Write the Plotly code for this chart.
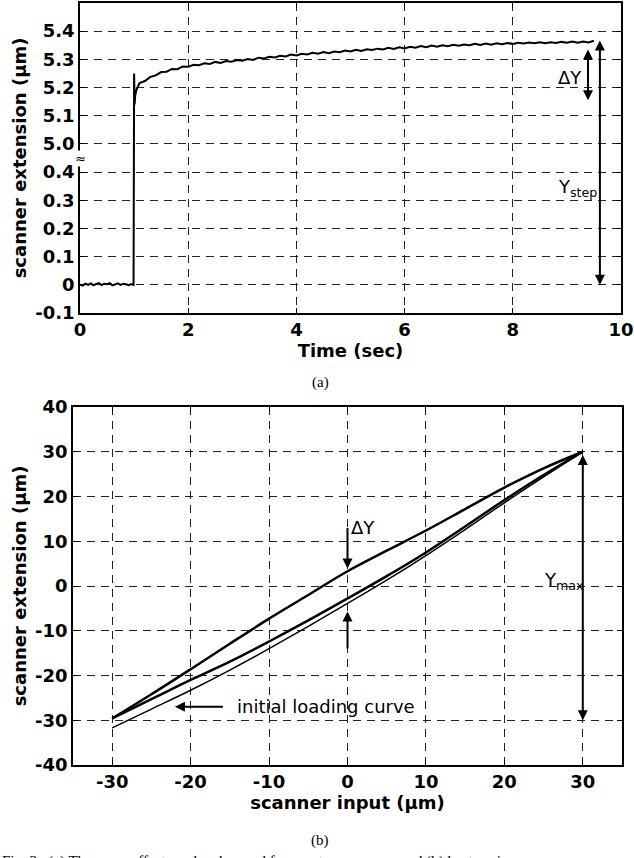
import plotly.graph_objects as go

# ---------------- data: (a) creep step response ----------------
step_time = [0.0, 0.05, 0.1, 0.15, 0.2, 0.25, 0.3, 0.35, 0.4, 0.45, 0.5, 0.55, 0.6, 0.65,
             0.7, 0.75, 0.8, 0.85, 0.9, 0.95, 0.99, 1.0, 1.01, 1.02, 1.04, 1.07]
step_value = [0.0, -0.003, 0.004, 0.0, 0.005, -0.002, 0.003, 0.006, -0.001, 0.004, 0.002,
              0.006, -0.002, 0.003, 0.005, 0.0, 0.004, 0.002, -0.001, 0.003, 0.0,
              5.25, 5.14, 5.17, 5.19, 5.205]
creep_time = [round(1.1 + 0.1 * i, 1) for i in range(85)]
creep_value = [5.216, 5.223, 5.238, 5.243, 5.255, 5.256, 5.266, 5.265, 5.275, 5.274,
               5.281, 5.279, 5.286, 5.284, 5.291, 5.287, 5.294, 5.292, 5.298, 5.295,
               5.301, 5.298, 5.306, 5.303, 5.309, 5.307, 5.313, 5.310, 5.317, 5.314,
               5.320, 5.317, 5.323, 5.320, 5.326, 5.322, 5.328, 5.325, 5.331, 5.328,
               5.334, 5.330, 5.336, 5.333, 5.338, 5.335, 5.341, 5.337, 5.343, 5.339,
               5.345, 5.341, 5.347, 5.343, 5.349, 5.345, 5.350, 5.347, 5.352, 5.348,
               5.353, 5.350, 5.355, 5.351, 5.356, 5.352, 5.357, 5.354, 5.358, 5.355,
               5.359, 5.356, 5.360, 5.357, 5.361, 5.357, 5.361, 5.358, 5.362, 5.359,
               5.363, 5.359, 5.363, 5.360, 5.366]
top_ytick_values = [-0.1, 0, 0.1, 0.2, 0.3, 0.4, 5.0, 5.1, 5.2, 5.3, 5.4]
top_ytick_labels = ["-0.1", "0", "0.1", "0.2", "0.3", "0.4", "5.0", "5.1", "5.2", "5.3", "5.4"]
top_xticks = [0, 2, 4, 6, 8, 10]
top_xtick_labels = ["0", "2", "4", "6", "8", "10"]

# ---------------- data: (b) hysteresis loop ----------------
desc_input = [30, 25, 20, 15, 10, 5, 0, -5, -10, -15, -20, -25, -30]
desc_ext = [30, 26.3, 22.0, 17.2, 12.4, 7.9, 3.3, -2.0, -7.3, -12.9, -18.6, -24.2, -29.6]
asc_input = [-30, -25, -20, -15, -10, -5, 0, 5, 10, 15, 20, 25, 30]
asc_ext = [-29.6, -25.3, -21.0, -16.9, -12.4, -7.7, -2.8, 2.2, 7.5, 13.3, 19.2, 24.8, 30]
init_input = [-30, -25, -20, -15, -10, -5, 0, 5, 10, 15, 20, 25, 30]
init_ext = [-31.7, -27.5, -23.3, -18.8, -14.0, -9.0, -3.9, 1.3, 6.8, 12.6, 18.6, 24.4, 30]
bot_xticks = [-30, -20, -10, 0, 10, 20, 30]
bot_xtick_labels = ["-30", "-20", "-10", "0", "10", "20", "30"]
bot_yticks = [-40, -30, -20, -10, 0, 10, 20, 30, 40]
bot_ytick_labels = ["-40", "-30", "-20", "-10", "0", "10", "20", "30", "40"]


def broken(v):
    """Map a value onto the broken (a) axis: 0..0.4 and 5.0..5.4 share one scale."""
    return v * 10 if v < 1 else (v - 5.0) * 10 + 5


W, H = 634, 858
BOLD = dict(family="DejaVu Sans", size=18, color="black", weight="bold")
NORM = dict(family="DejaVu Sans", size=18, color="black")
GRID = dict(showgrid=True, gridcolor="#222", gridwidth=1, griddash="8px,6px",
            showline=True, linecolor="black", linewidth=1.5, mirror="ticks",
            ticks="inside", ticklen=5, tickcolor="black", zeroline=False,
            tickfont=BOLD, automargin=False)

fig = go.Figure()
fig.add_trace(go.Scatter(x=step_time + creep_time,
                         y=[broken(v) for v in step_value + creep_value],
                         mode="lines", line=dict(color="black", width=2),
                         xaxis="x", yaxis="y", showlegend=False))

fig.add_trace(go.Scatter(x=init_input, y=init_ext, mode="lines", line_shape="spline",
                         line=dict(color="black", width=1.5), xaxis="x2", yaxis="y2",
                         showlegend=False))
fig.add_trace(go.Scatter(x=asc_input, y=asc_ext, mode="lines", line_shape="spline",
                         line=dict(color="black", width=2.5), xaxis="x2", yaxis="y2",
                         showlegend=False))
fig.add_trace(go.Scatter(x=desc_input, y=desc_ext, mode="lines", line_shape="spline",
                         line=dict(color="black", width=2.5), xaxis="x2", yaxis="y2",
                         showlegend=False))

fig.update_layout(
    width=W, height=H, margin=dict(l=0, r=0, t=0, b=0, autoexpand=False),
    paper_bgcolor="white", plot_bgcolor="white",
    xaxis=dict(domain=[80 / W, 621 / W], range=[0, 10], tickvals=top_xticks,
               ticktext=top_xtick_labels,
               anchor="y", title=dict(text="Time (sec)", font=BOLD, standoff=0), **GRID),
    yaxis=dict(domain=[1 - 313 / H, 1 - 3 / H], range=[-1, 10],
               tickvals=[broken(v) for v in top_ytick_values], ticktext=top_ytick_labels,
               anchor="x", title=dict(text="scanner extension (μm)", font=BOLD, standoff=4),
               **GRID),
    xaxis2=dict(domain=[73 / W, 622 / W], range=[-35, 35], tickvals=bot_xticks,
                ticktext=bot_xtick_labels,
                anchor="y2", title=dict(text="scanner input (μm)", font=BOLD, standoff=0),
                **GRID),
    yaxis2=dict(domain=[1 - 765 / H, 1 - 407 / H], range=[-40, 40], tickvals=bot_yticks,
                ticktext=bot_ytick_labels,
                anchor="x2", title=dict(text="scanner extension (μm)", font=BOLD, standoff=4),
                **GRID),
)

arrow = dict(showarrow=True, arrowcolor="black", arrowwidth=2, arrowhead=2, arrowsize=1,
             text="")
ann = []
# (a) annotations
ann.append(dict(xref="x", yref="y", axref="x", ayref="y", x=9.39, y=broken(5.155),
                ax=9.39, ay=broken(5.34), arrowside="end+start", **arrow))
ann.append(dict(xref="x", yref="y", axref="x", ayref="y", x=9.61, y=broken(0.0),
                ax=9.61, ay=broken(5.372), arrowside="end+start", **arrow))
ann.append(dict(xref="x", yref="y", x=8.8, y=broken(5.237), text="ΔY", showarrow=False,
                xanchor="left", yanchor="middle", font=NORM))
ann.append(dict(xref="x", yref="y", x=8.8, y=broken(0.343), text="Y<sub>step</sub>",
                showarrow=False, xanchor="left", yanchor="middle", font=NORM))
ann.append(dict(xref="x", yref="y", x=0, y=4.5, text="≈", showarrow=False,
                xanchor="center", yanchor="middle", bgcolor="white", borderpad=0,
                font=dict(family="DejaVu Sans", size=13, color="black")))
# (b) annotations
ann.append(dict(xref="x2", yref="y2", axref="x2", ayref="y2", x=0, y=3.9, ax=0, ay=13.3,
                **arrow))
ann.append(dict(xref="x2", yref="y2", axref="x2", ayref="y2", x=0, y=-5.7, ax=0, ay=-14.3,
                **arrow))
ann.append(dict(xref="x2", yref="y2", x=0.2, y=13.0, text="ΔY", showarrow=False,
                xanchor="left", yanchor="middle", font=NORM))
ann.append(dict(xref="x2", yref="y2", axref="x2", ayref="y2", x=30, y=-30, ax=30, ay=29.6,
                arrowside="end+start", **arrow))
ann.append(dict(xref="x2", yref="y2", x=24.8, y=1.2, text="Y<sub>max</sub>",
                showarrow=False, xanchor="left", yanchor="middle", font=NORM))
ann.append(dict(xref="x2", yref="y2", axref="x2", ayref="y2", x=-22, y=-27, ax=-15.7,
                ay=-27, **arrow))
ann.append(dict(xref="x2", yref="y2", x=-14.3, y=-27, text="initial loading curve",
                showarrow=False, xanchor="left", yanchor="middle", font=NORM))
# captions
SERIF = dict(family="Liberation Serif, Times New Roman", size=15, color="black")
ann.append(dict(xref="paper", yref="paper", x=320 / W, y=1 - 383 / H, text="(a)",
                showarrow=False, xanchor="center", yanchor="middle", font=SERIF))
ann.append(dict(xref="paper", yref="paper", x=320 / W, y=1 - 840 / H, text="(b)",
                showarrow=False, xanchor="center", yanchor="middle", font=SERIF))
ann.append(dict(xref="paper", yref="paper", x=0, y=1 - 851 / H,
                text="Fig. 3.  (a) The creep effect can be observed from a step response, and (b) hysteresis",
                showarrow=False, xanchor="left", yanchor="top", font=SERIF))
fig.update_layout(annotations=ann)

fig.write_html("out.html", config={"displayModeBar": False},
               post_script="document.body.style.margin='0';document.body.style.overflow='hidden';")
